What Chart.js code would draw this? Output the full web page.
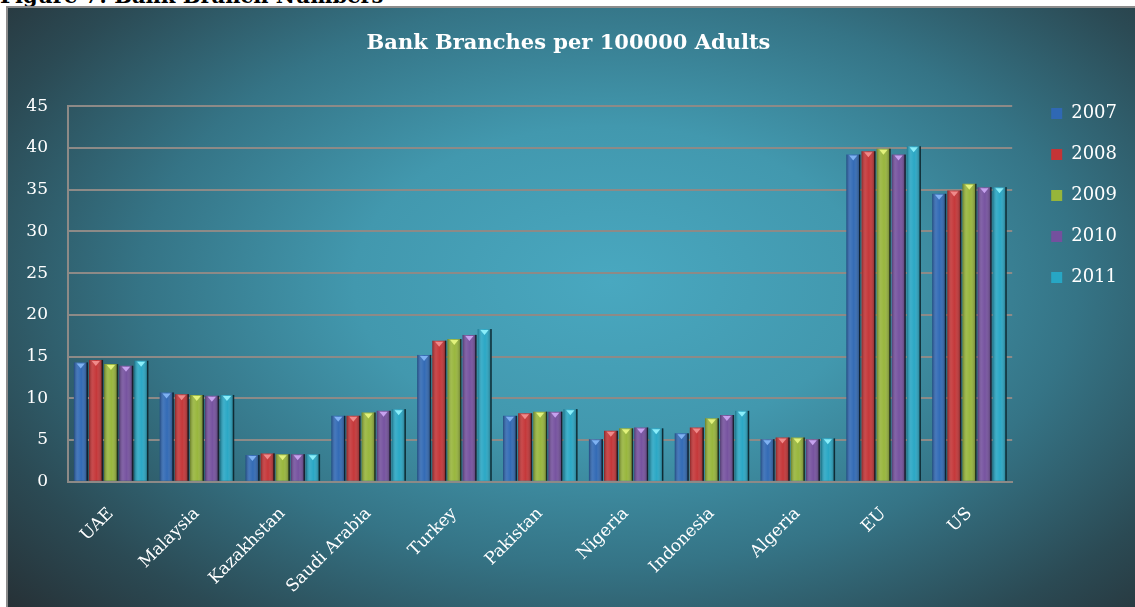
<!DOCTYPE html>
<html>
<head>
<meta charset="utf-8">
<script src="https://cdn.jsdelivr.net/npm/chart.js@4/dist/chart.umd.min.js"></script>
<style>
  html, body { margin: 0; padding: 0; background: #fff; overflow: hidden; }
  body { width: 1135px; height: 607px; position: relative; }
  #caption {
    position: absolute; left: 0; top: -17px;
    font: bold 21px "DejaVu Serif", serif; color: #000; white-space: nowrap;
  }
  #frame {
    position: absolute; left: 6px; top: 6px; width: 1135px; height: 607px;
    border-left: 2px solid #8c8c8c; border-top: 2px solid #8c8c8c;
    background: radial-gradient(ellipse 75% 85% at 53% 45%, #49a8c0 0%, #4298ae 30%, #357486 55%, #2b4a54 78%, #25292d 100%);
  }
  #wrap { position: absolute; left: 0; top: 0; width: 1127px; height: 599px; }
</style>
</head>
<body>
<div id="caption">Figure 7: Bank Branch Numbers</div>
<div id="frame"><div id="wrap"><canvas id="chart"></canvas></div></div>
<script>
// --- data ---
const categories = ['UAE', 'Malaysia', 'Kazakhstan', 'Saudi Arabia', 'Turkey', 'Pakistan', 'Nigeria', 'Indonesia', 'Algeria', 'EU', 'US'];
const years = ['2007', '2008', '2009', '2010', '2011'];
const v2007 = [14.3, 10.7, 3.2, 7.9, 15.2, 7.9, 5.1, 5.8, 5.1, 39.2, 34.5];
const v2008 = [14.6, 10.5, 3.4, 7.9, 16.9, 8.2, 6.1, 6.5, 5.3, 39.6, 34.9];
const v2009 = [14.1, 10.4, 3.3, 8.3, 17.1, 8.4, 6.4, 7.6, 5.3, 39.9, 35.7];
const v2010 = [13.9, 10.3, 3.3, 8.5, 17.6, 8.4, 6.5, 8.0, 5.1, 39.2, 35.3];
const v2011 = [14.5, 10.4, 3.3, 8.7, 18.3, 8.7, 6.4, 8.5, 5.2, 40.2, 35.3];
const yTicks = [0, 5, 10, 15, 20, 25, 30, 35, 40, 45];

const colors = ['#2f68b4', '#c43436', '#97b53a', '#74509e', '#27a6c4'];
const tipColors = ['#7fb2f2', '#f08a8a', '#e2f27c', '#c6a2ee', '#8aeefa'];
const serif = '"DejaVu Serif", serif';

// bevelled look: shading across each bar and a light triangle on top
const bevel = {
    id: 'bevel',
    afterLayout(chart) {
        // push the legend items a little further from the plot
        chart.legend.left += 16;
        chart.legend.right += 16;
    },
    afterDatasetsDraw(chart) {
        const ctx = chart.ctx;
        chart.data.datasets.forEach((ds, i) => {
            const meta = chart.getDatasetMeta(i);
            meta.data.forEach(bar => {
                const w = bar.width, l = bar.x - w / 2, top = bar.y, h = bar.base - bar.y;
                ctx.save();
                const g = ctx.createLinearGradient(l, 0, l + w, 0);
                g.addColorStop(0, 'rgba(0,0,0,0.30)');
                g.addColorStop(0.3, 'rgba(255,255,255,0.10)');
                g.addColorStop(0.55, 'rgba(255,255,255,0.02)');
                g.addColorStop(1, 'rgba(0,0,0,0.35)');
                ctx.fillStyle = g;
                ctx.fillRect(l, top, w, h);
                ctx.fillStyle = 'rgba(10,20,25,0.75)';
                ctx.fillRect(l + w - 1, top, 1.5, h);
                ctx.fillStyle = tipColors[i];
                ctx.beginPath();
                ctx.moveTo(l + w * 0.2, top + 1);
                ctx.lineTo(l + w * 0.8, top + 1);
                ctx.lineTo(bar.x, top + 6);
                ctx.closePath();
                ctx.fill();
                ctx.restore();
            });
        });
    }
};

const seriesValues = [v2007, v2008, v2009, v2010, v2011];
const datasets = years.map((y, i) => ({
    label: y,
    data: seriesValues[i],
    backgroundColor: colors[i],
    borderWidth: 0
}));

new Chart(document.getElementById('chart'), {
    type: 'bar',
    data: { labels: categories, datasets: datasets },
    options: {
        responsive: true,
        maintainAspectRatio: false,
        animation: false,
        categoryPercentage: 0.88,
        barPercentage: 0.9,
        layout: { padding: { left: 18, right: 24, bottom: 4, top: 0 } },
        plugins: {
            title: {
                display: true,
                text: 'Bank Branches per 100000 Adults',
                color: '#ffffff',
                font: { family: serif, size: 21, weight: 'bold' },
                padding: { top: 23, bottom: 50 }
            },
            legend: {
                position: 'right',
                align: 'start',
                title: { display: true, text: ' ', font: { size: 12 }, padding: { top: 59, bottom: 0 } },
                labels: {
                    color: '#ffffff',
                    font: { family: serif, size: 18 },
                    boxWidth: 11,
                    boxHeight: 11,
                    padding: 23
                }
            },
            tooltip: { enabled: false }
        },
        scales: {
            x: {
                grid: { display: false },
                border: { display: true, color: '#8d8a87', width: 2 },
                afterFit(scale) {
                    scale.paddingLeft = 0;
                    scale.paddingRight = 0;
                    scale.height -= 8;
                },
                ticks: {
                    color: '#ffffff',
                    font: { family: serif, size: 17 },
                    maxRotation: 45,
                    minRotation: 45,
                    padding: 14
                }
            },
            y: {
                min: 0,
                max: 45,
                afterBuildTicks(axis) { axis.ticks = yTicks.map(v => ({ value: v })); },
                afterFit(scale) { scale.width = 42; },
                grid: { color: '#8d8a87', lineWidth: 2, drawTicks: false },
                border: { display: true, color: '#8d8a87', width: 2 },
                ticks: {
                    color: '#ffffff',
                    font: { family: serif, size: 17 },
                    padding: 20
                }
            }
        }
    },
    plugins: [bevel]
});
</script>
</body>
</html>
